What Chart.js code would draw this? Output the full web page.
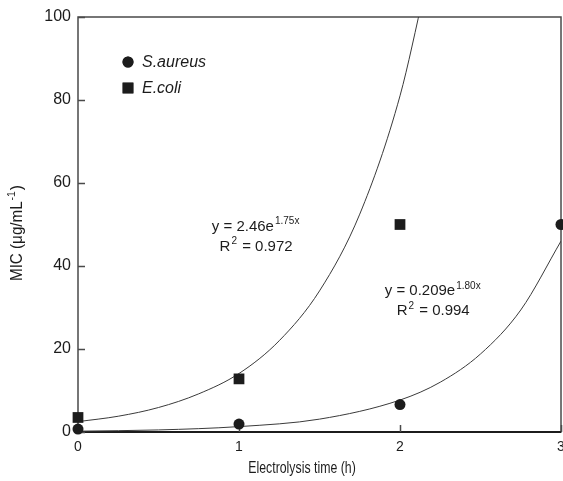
<!DOCTYPE html>
<html>
<head>
<meta charset="utf-8">
<script src="https://cdn.jsdelivr.net/npm/chart.js@4/dist/chart.umd.min.js"></script>
<style>
body { margin: 0; background: #fff; }
#wrap { width: 563px; height: 481px; }
</style>
</head>
<body>
<div id="wrap"><canvas id="micChart"></canvas></div>
<script>
// measured points
const saureusTime = [0, 1, 2, 3];
const saureusMIC = [0.7, 1.9, 6.6, 50];
const ecoliTime = [0, 1, 2];
const ecoliMIC = [3.5, 12.8, 50];

// fit curves
const ecoliFitTime = [0, 0.25, 0.5, 0.75, 1, 1.25, 1.5, 1.75, 2, 2.15];
const ecoliFitMIC = [2.5, 3.8, 5.9, 9.2, 14.1, 22, 34, 52.5, 81, 106];
const saureusFitTime = [0, 0.5, 1, 1.5, 2, 2.25, 2.5, 2.75, 3];
const saureusFitMIC = [0.2, 0.5, 1.3, 3.1, 7.7, 12, 18.8, 29.4, 46];

const xTickValues = [0, 1, 2, 3];
const yTickValues = [0, 20, 40, 60, 80, 100];

const fitLabels = [
    { base: 'y = 2.46e', sup: '1.75x', r2: '0.972', at: [1.10, 48.5] },
    { base: 'y = 0.209e', sup: '1.80x', r2: '0.994', at: [2.20, 33] }
];

const ink = '#1c1c1c';
const axisColor = '#4a4a4a';

function toPoints(xs, ys) {
    return xs.map((x, i) => ({ x: x, y: ys[i] }));
}

// text with one superscript part, drawn centred at cx
function drawSupText(ctx, cx, y, base, sup, tail, size) {
    ctx.font = size + 'px "Liberation Sans", Arial, sans-serif';
    const wb = ctx.measureText(base).width;
    const wt = ctx.measureText(tail).width;
    ctx.font = Math.round(size * 0.68) + 'px "Liberation Sans", Arial, sans-serif';
    const ws = ctx.measureText(sup).width;
    let x = cx - (wb + ws + wt) / 2;
    ctx.textAlign = 'left';
    ctx.textBaseline = 'alphabetic';
    ctx.font = size + 'px "Liberation Sans", Arial, sans-serif';
    ctx.fillText(base, x, y);
    ctx.font = Math.round(size * 0.68) + 'px "Liberation Sans", Arial, sans-serif';
    ctx.fillText(sup, x + wb + 1, y - size * 0.42);
    ctx.font = size + 'px "Liberation Sans", Arial, sans-serif';
    ctx.fillText(tail, x + wb + ws + 2, y);
}

const framePlugin = {
    id: 'frame',
    beforeDatasetsDraw(chart) {
        const { ctx, chartArea: a, scales } = chart;
        ctx.save();
        ctx.strokeStyle = axisColor;
        ctx.lineWidth = 1.5;
        ctx.strokeRect(a.left, a.top, a.right - a.left, a.bottom - a.top);
        ctx.strokeStyle = ink;
        ctx.lineWidth = 2;
        ctx.beginPath();
        ctx.moveTo(a.left, a.bottom);
        ctx.lineTo(a.right, a.bottom);
        ctx.stroke();
        // inward tick marks
        ctx.strokeStyle = axisColor;
        ctx.lineWidth = 1.5;
        ctx.beginPath();
        yTickValues.forEach(v => {
            const py = Math.round(scales.y.getPixelForValue(v)) + 0.5;
            ctx.moveTo(a.left, py);
            ctx.lineTo(a.left + 7, py);
        });
        xTickValues.forEach(v => {
            const px = Math.round(scales.x.getPixelForValue(v)) + 0.5;
            ctx.moveTo(px, a.bottom);
            ctx.lineTo(px, a.bottom - 7);
        });
        ctx.stroke();
        ctx.restore();
    },
    afterDraw(chart) {
        const { ctx, chartArea: a, scales } = chart;
        ctx.save();
        ctx.fillStyle = ink;

        // legend inside the plot
        const legendSets = chart.data.datasets.filter(d => d.inLegend);
        legendSets.forEach((d, i) => {
            const mx = a.left + 50;
            const my = a.top + 45 + i * 26;
            Chart.helpers.drawPoint(ctx, {
                pointStyle: d.pointStyle, radius: d.pointRadius, rotation: 0, borderWidth: 0
            }, mx, my);
            ctx.fill();
            ctx.font = 'italic 16px "Liberation Sans", Arial, sans-serif';
            ctx.textAlign = 'left';
            ctx.textBaseline = 'middle';
            ctx.fillText(d.label, mx + 14, my + 1);
        });

        // fit equations
        fitLabels.forEach(f => {
            const cx = scales.x.getPixelForValue(f.at[0]);
            const cy = scales.y.getPixelForValue(f.at[1]);
            drawSupText(ctx, cx, cy, f.base, f.sup, '', 15);
            drawSupText(ctx, cx, cy + 20, 'R', '2', ' = ' + f.r2, 15);
        });

        // axis titles, narrow lettering
        ctx.save();
        ctx.translate(a.left + 224, 469);
        ctx.scale(0.77, 1);
        ctx.font = '16px "Liberation Sans", Arial, sans-serif';
        ctx.textAlign = 'center';
        ctx.textBaseline = 'middle';
        ctx.fillText('Electrolysis time (h)', 0, 0);
        ctx.restore();

        ctx.save();
        ctx.translate(17, 234);
        ctx.rotate(-Math.PI / 2);
        ctx.scale(0.95, 1);
        drawSupText(ctx, 0, 5, 'MIC (\u03bcg/mL', '-1', ')', 16);
        ctx.restore();

        ctx.restore();
    }
};

const ctx = document.getElementById('micChart').getContext('2d');

const micChart = new Chart(ctx, {
    type: 'scatter',
    data: {
        datasets: [
            {
                label: 'S.aureus',
                inLegend: true,
                data: toPoints(saureusTime, saureusMIC),
                pointStyle: 'circle',
                pointRadius: 5.5,
                backgroundColor: ink,
                borderWidth: 0,
                clip: false
            },
            {
                label: 'E.coli',
                inLegend: true,
                data: toPoints(ecoliTime, ecoliMIC),
                pointStyle: 'rect',
                pointRadius: 7.6,
                backgroundColor: ink,
                borderWidth: 0,
                clip: false
            },
            {
                label: 'E.coli fit',
                data: toPoints(ecoliFitTime, ecoliFitMIC),
                showLine: true,
                pointRadius: 0,
                borderColor: '#3a3a3a',
                borderWidth: 1,
                cubicInterpolationMode: 'monotone'
            },
            {
                label: 'S.aureus fit',
                data: toPoints(saureusFitTime, saureusFitMIC),
                showLine: true,
                pointRadius: 0,
                borderColor: '#3a3a3a',
                borderWidth: 1,
                cubicInterpolationMode: 'monotone'
            }
        ]
    },
    options: {
        responsive: true,
        maintainAspectRatio: false,
        animation: false,
        layout: { autoPadding: false, padding: { top: 17, right: 2, left: 0, bottom: 0 } },
        plugins: {
            legend: { display: false },
            tooltip: { enabled: false }
        },
        scales: {
            x: {
                type: 'linear',
                min: 0,
                max: 3,
                afterBuildTicks: scale => { scale.ticks = xTickValues.map(v => ({ value: v })); },
                ticks: {
                    color: ink,
                    padding: 7,
                    font: { size: 14, family: '"Liberation Sans", Arial, sans-serif' }
                },
                grid: { display: false, drawTicks: false },
                border: { display: false },
                afterFit: scale => {
                    scale.height = 49;
                    scale.paddingLeft = 0;
                    scale.paddingRight = 0;
                }
            },
            y: {
                type: 'linear',
                min: 0,
                max: 100,
                afterBuildTicks: scale => { scale.ticks = yTickValues.map(v => ({ value: v })); },
                ticks: {
                    color: ink,
                    padding: 7,
                    font: { size: 16, family: '"Liberation Sans", Arial, sans-serif' }
                },
                grid: { display: false, drawTicks: false },
                border: { display: false },
                afterFit: scale => {
                    scale.width = 78;
                    scale.paddingTop = 0;
                    scale.paddingBottom = 0;
                }
            }
        }
    },
    plugins: [framePlugin]
});
</script>
</body>
</html>
